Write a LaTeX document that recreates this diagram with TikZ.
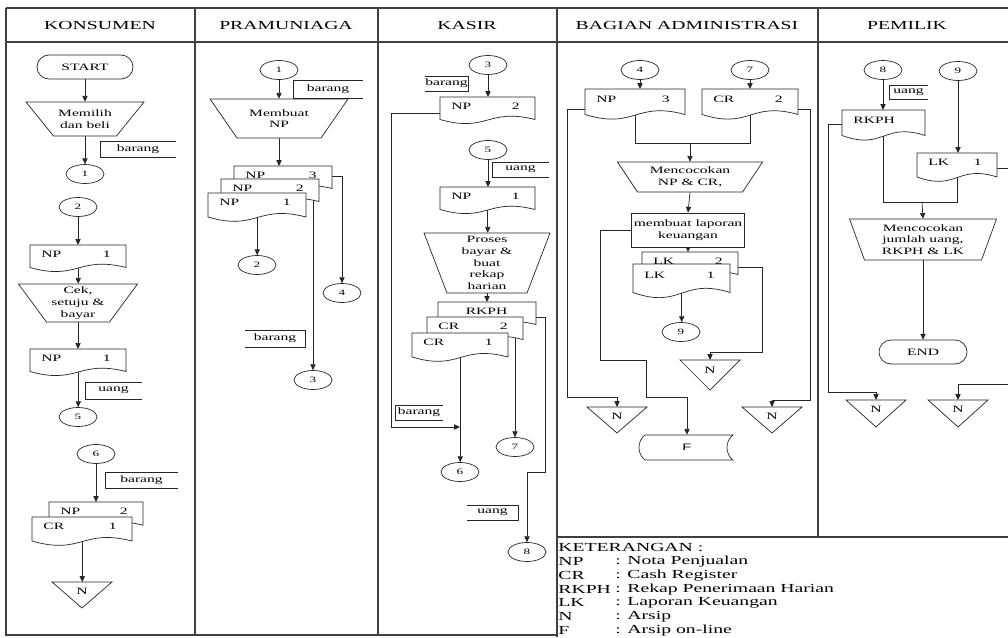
\documentclass[tikz,border=0pt]{standalone}
\usepackage{fontspec}
\setmainfont{Liberation Serif}[FakeStretch=1.6]
\setsansfont{Liberation Sans}[FakeStretch=1.6]
\usepackage{tikz}
\usetikzlibrary{positioning}
\usetikzlibrary{calc,arrows.meta}
\usetikzlibrary{shapes.geometric,shapes.misc}

\pgfdeclarelayer{bg}
\pgfsetlayers{bg,main}

% one pixel of the sheet
\newcommand{\upx}{0.03cm}

\tikzset{
	garis/.style={draw=black!85, line width=0.6pt},
	panah/.style={garis, -{Triangle[length=5pt,width=4.5pt]}},
	teks/.style={font=\fontsize{8.3}{10}\selectfont, inner sep=1pt},
	konektor/.style={ellipse, garis, fill=white, minimum width=38*\upx, minimum height=19*\upx, inner sep=0pt, font=\fontsize{7}{8}\selectfont},
	terminal/.style={rounded rectangle, garis, fill=white, minimum height=24*\upx, inner sep=0pt, font=\fontsize{8.3}{10}\selectfont},
	proses/.style={rectangle, garis, fill=white, align=center, teks},
	judul/.style={font=\fontsize{10.5}{12}\selectfont},
	ket/.style={font=\fontsize{10.5}{12}\selectfont, inner sep=1pt},
	bingkai/.style={draw=black!75, line width=0.9pt},
}

% document: name, x, y, width, height, label, number
\newcommand{\dok}[7]{%
	\draw[garis, fill=white] (#2,#3) -- ({#2+#4},#3) -- ({#2+#4},{#3+0.75*#5})
		.. controls ({#2+0.5*#4},{#3+0.35*#5}) and ({#2+0.5*#4},{#3+1.2*#5}) .. (#2,{#3+0.75*#5}) -- cycle;
	\node[inner sep=0pt, minimum width=#4*\upx, minimum height=0.62*#5*\upx, anchor=north west] (#1) at (#2,#3) {};
	\node[teks, anchor=west] (#1-l) at ({#2+10},{#3+0.3*#5}) {#6};
	\node[teks, anchor=east] (#1-n) at ({#2+#4-14},{#3+0.3*#5}) {#7};
}

% manual operation: name, cx, ytop, top width, bottom width, height, text
\newcommand{\trapez}[7]{%
	\draw[garis, fill=white] ({#2-#4/2},#3) -- ({#2+#4/2},#3) -- ({#2+#5/2},{#3+#6}) -- ({#2-#5/2},{#3+#6}) -- cycle;
	\node[teks, align=center, inner sep=0pt, minimum width=#5*\upx, minimum height=#6*\upx] (#1) at (#2,{#3+#6/2}) {#7};
}

% offline file: name, cx, ytop, height
\newcommand{\arsip}[4]{%
	\draw[garis, fill=white] ({#2-30},#3) -- ({#2+30},#3) -- (#2,{#3+#4}) -- cycle;
	\coordinate (#1) at (#2,#3);
	\node[teks] (#1-t) at (#2,{#3+0.36*#4}) {N};
}

% annotation, closed on the left / on the right: name, x1, y1, x2, y2, text
\newcommand{\catatL}[6]{%
	\draw[garis] (#4,#3) -- (#2,#3) -- (#2,#5) -- (#4,#5);
	\node[teks] (#1) at ({(#2+#4)/2},{(#3+#5)/2}) {#6};
}
\newcommand{\catatR}[6]{%
	\draw[garis] (#2,#3) -- (#4,#3) -- (#4,#5) -- (#2,#5);
	\node[teks] (#1) at ({(#2+#4)/2},{(#3+#5)/2}) {#6};
}

\begin{document}
\begin{tikzpicture}[x=0.03cm, y=-0.03cm]

	% ------------------------------------------------
	% Size of the sheet
	\useasboundingbox (0,0) rectangle (1008,637);

	% ------------------------------------------------
	% Frame and swimlanes
	\draw[bingkai] (6,8) -- (1012,8);
	\draw[bingkai] (6,42) -- (1012,42);
	\draw[bingkai] (6,8) -- (6,635) -- (557,635);
	\foreach \xg in {195,378} \draw[bingkai] (\xg,8) -- (\xg,635);
	\draw[bingkai] (557,8) -- (557,637);
	\draw[bingkai] (818,8) -- (818,537);
	\draw[bingkai] (557,537) -- (1012,537);

	\node[judul] (h_kons) at (100,25) {KONSUMEN};
	\node[judul] (h_pram) at (286,25) {PRAMUNIAGA};
	\node[judul] (h_kasir) at (467,25) {KASIR};
	\node[judul] (h_admin) at (687,25) {BAGIAN ADMINISTRASI};
	\node[judul] (h_pemilik) at (907,25) {PEMILIK};

	%%%%%%%%%%%%%%%%%%%%%%%%%%%%%%%%%%%%%%%%%
	% Konsumen
	\node[terminal, minimum width=96*\upx] (k_start) at (85,67) {START};
	\trapez{k_pilih}{85}{102}{118}{63}{34}{Memilih\\dan beli}
	\catatL{k_brg1}{100}{141}{176}{157}{barang}
	\node[konektor] (k_c1) at (85,174) {1};
	\node[konektor] (k_c2) at (78,207) {2};
	\dok{k_np1}{30}{245}{96}{30}{NP}{1}
	\trapez{k_cek}{78}{284}{119}{63}{38}{Cek,\\setuju \&\\bayar}
	\dok{k_np1b}{30}{349}{96}{30}{NP}{1}
	\catatL{k_uang}{85}{382}{142}{399}{uang}
	\node[konektor] (k_c5) at (78,417) {5};
	\node[konektor] (k_c6) at (96,454) {6};
	\catatL{k_brg2}{105}{472}{178}{488}{barang}
	\dok{k_np2}{49}{502}{94}{31}{NP}{2}
	\dok{k_cr1}{32}{517}{100}{32}{CR}{1}
	\arsip{k_n}{82}{582}{26}

	%%%%%%%%%%%%%%%%%%%%%%%%%%%%%%%%%%%%%%%%%
	% Pramuniaga
	\node[konektor] (p_c1) at (279,70) {1};
	\catatL{p_brg1}{293}{80}{363}{98}{barang}
	\trapez{p_buat}{279}{99}{138}{84}{39}{Membuat\\NP}
	\dok{p_np3}{234}{166}{98}{30}{NP}{3}
	\dok{p_np2}{221}{179}{98}{30}{NP}{2}
	\dok{p_np1}{208}{193}{98}{32}{NP}{1}
	\node[konektor] (p_c2) at (257,265) {2};
	\node[konektor] (p_c4) at (342,293) {4};
	\catatR{p_brg2}{245}{330}{305}{347}{barang}
	\node[konektor] (p_c3) at (313,380) {3};

	%%%%%%%%%%%%%%%%%%%%%%%%%%%%%%%%%%%%%%%%%
	% Kasir
	\node[konektor] (s_c3) at (488,65) {3};
	\catatR{s_brg1}{425}{76}{468}{91}{barang}
	\dok{s_np2}{440}{97}{95}{30}{NP}{2}
	\node[konektor] (s_c5) at (488,150) {5};
	\catatL{s_uang1}{492}{162}{549}{177}{uang}
	\dok{s_np1}{440}{187}{95}{30}{NP}{1}
	\trapez{s_proses}{487}{233}{126}{80}{60}{Proses\\bayar \&\\buat\\rekap\\harian}
	\dok{s_rkph}{438}{302}{98}{30}{\hspace{14pt}RKPH}{}
	\dok{s_cr2}{427}{317}{96}{30}{CR}{2}
	\dok{s_cr1}{412}{333}{96}{32}{CR}{1}
	\catatL{s_brg2}{395}{405}{443}{420}{barang}
	\coordinate (s_gabung) at (460,427);
	\node[konektor] (s_c6) at (460,472) {6};
	\node[konektor] (s_c7) at (515,447) {7};
	\catatR{s_uang2}{467}{505}{518}{520}{uang}
	\node[konektor] (s_c8) at (527,552) {8};

	%%%%%%%%%%%%%%%%%%%%%%%%%%%%%%%%%%%%%%%%%
	% Bagian administrasi
	\node[konektor] (a_c4) at (640,70) {4};
	\node[konektor] (a_c7) at (750,70) {7};
	\dok{a_np3}{585}{89}{100}{34}{NP}{3}
	\dok{a_cr2}{702}{89}{96}{34}{CR}{2}
	\coordinate (a_temu) at (690,143);
	\trapez{a_cocok}{690}{162}{145}{105}{30}{Mencocokan\\NP \& CR,}
	\node[proses, minimum width=113*\upx, minimum height=34*\upx] (a_lap) at (688,230) {membuat laporan\\keuangan};
	\dok{a_lk2}{642}{252}{96}{30}{LK}{2}
	\dok{a_lk1}{633}{264}{97}{38}{LK}{1}
	\node[konektor] (a_c9) at (681,332) {9};
	\arsip{a_n2}{710}{360}{30}
	\arsip{a_n1}{617}{407}{26}
	\arsip{a_n3}{772}{407}{26}
	% online file
	\draw[garis, fill=white] (645,435) -- (733,435) .. controls (725,441) and (725,454) .. (733,460)
		-- (645,460) .. controls (637,454) and (637,441) .. (645,435) -- cycle;
	\node[teks, font=\sffamily\fontsize{8}{10}\selectfont, minimum width=88*\upx, minimum height=25*\upx] (a_f) at (687,447.5) {F};

	%%%%%%%%%%%%%%%%%%%%%%%%%%%%%%%%%%%%%%%%%
	% Pemilik
	\node[konektor] (m_c8) at (883,70) {8};
	\node[konektor] (m_c9) at (958,71) {9};
	\catatL{m_uang}{889}{85}{928}{99}{uang}
	\dok{m_rkph}{842}{110}{83}{34}{RKPH}{}
	\dok{m_lk1}{917}{153}{80}{32}{LK}{1}
	\coordinate (m_temu) at (922,202);
	\trapez{m_cocok}{923}{219}{147}{117}{41}{Mencocokan\\jumlah uang,\\RKPH \& LK}
	\node[terminal, minimum width=88*\upx] (m_end) at (923,352) {END};
	\arsip{m_n1}{876}{400}{27}
	\arsip{m_n2}{958}{400}{27}

	% ------------------------------------------------
	% Keterangan
	\node[ket, anchor=west] (ket0) at (557,548) {KETERANGAN :};
	\foreach \sing/\arti [count=\i] in {NP/Nota Penjualan, CR/Cash Register, RKPH/Rekap Penerimaan Harian, LK/Laporan Keuangan, N/Arsip, F/Arsip on-line}{
		\node[ket, anchor=west] (ket_s\i) at (557,{548+13.7*\i}) {\sing};
		\node[ket, anchor=west] (ket_a\i) at (614,{548+13.7*\i}) {: \arti};
	}

	%%%%%%%%%%%%%%%%%%%%%%%%%%%%%%%%%%%%%%%%%
	% Flow lines, behind the symbols
	\begin{pgfonlayer}{bg}
		% Konsumen
		\draw[panah] (k_start.south) -- (k_pilih.north);
		\draw[panah] (k_pilih.south) -- (k_c1.north);
		\draw[panah] (k_c2.south) -- (k_c2.south |- k_np1.north);
		\draw[panah] (k_np1.south) -- (k_np1.south |- k_cek.north);
		\draw[panah] (k_cek.south) -- (k_cek.south |- k_np1b.north);
		\draw[panah] (k_np1b.south) -- (k_np1b.south |- k_c5.north);
		\draw[panah] (k_c6.south) -- (k_c6.south |- k_np2.north);
		\draw[panah] (k_cr1.south) -- (k_cr1.south |- k_n);

		% Pramuniaga
		\draw[panah] (p_c1.south) -- (p_c1.south |- p_buat.north);
		\draw[panah] (p_buat.south) -- (p_buat.south |- p_np3.north);
		\draw[panah] (p_np1.south) -- (p_np1.south |- p_c2.north);
		\draw[panah] ($(p_np3.north east)+(0,10)$) -| (p_c4.north);
		\draw[panah] (p_np2.south -| p_c3) -- (p_c3.north);

		% Kasir
		\draw[panah] (s_c3.south) -- (s_c3.south |- s_np2.north);
		\draw[panah] (s_c5.south) -- (s_c5.south |- s_np1.north);
		\draw[panah] (s_np1.south) -- (s_np1.south |- s_proses.north);
		\draw[panah] (s_proses.south) -- (s_proses.south |- s_rkph.north);
		\draw[panah] ($(s_np2.north west)+(0,16)$) -- ++(-49,0) |- (s_gabung);
		\draw[panah] (s_cr1.south) -- (s_cr1.south |- s_c6.north);
		\draw[panah] (s_cr2.south -| s_c7) -- (s_c7.north);
		\draw[panah] ($(s_rkph.north east)+(0,15)$) -- ++(9,0) -- ++(0,155) -| (s_c8.north);

		% Bagian administrasi
		\draw[panah] (a_c4.south) -- (a_c4.south |- a_np3.north);
		\draw[panah] (a_c7.south) -- (a_c7.south |- a_cr2.north);
		\draw[garis] (a_np3.south) |- (a_temu);
		\draw[garis] (a_cr2.south) |- (a_temu);
		\draw[panah] (a_temu) -- (a_cocok.north);
		\draw[panah] (a_cocok.south) -- (a_lap.north);
		\draw[panah] (a_lap.south) -- (a_lap.south |- a_lk2.north);
		\draw[panah] (a_lk1.south) -- (a_lk1.south |- a_c9.north);
		\draw[panah] ($(a_lk2.north east)+(0,15)$) -- ++(24,0) -- ++(0,85) -| (a_n2);
		\draw[panah] (a_lap.west) -- ++(-31,0) -- ++(0,130) -- ++(46,0) -- ++(0,37) -| (a_f.north);
		\draw[panah] ($(a_np3.north west)+(0,20)$) -- ++(-18,0) -- ++(0,288) -| (a_n1);
		\draw[panah] ($(a_cr2.north east)+(0,20)$) -- ++(12,0) -- ++(0,291) -| (a_n3);

		% Pemilik
		\draw[panah] (m_c8.south) -- (m_c8.south |- m_rkph.north);
		\draw[panah] (m_c9.south) -- (m_c9.south |- m_lk1.north);
		\draw[garis] (m_rkph.south) |- (m_temu);
		\draw[garis] (m_lk1.south) |- (m_temu);
		\draw[panah] (m_temu) -- (m_cocok.north);
		\draw[panah] (m_cocok.south) -- (m_end.north);
		\draw[panah] ($(m_rkph.north west)+(0,14)$) -- ++(-14,0) -- ++(0,268) -| (m_n1);
		\draw[panah] ($(m_lk1.north east)+(0,15)$) -- ++(20,0) -- ++(0,216) -| (m_n2);
	\end{pgfonlayer}

\end{tikzpicture}
\end{document}
